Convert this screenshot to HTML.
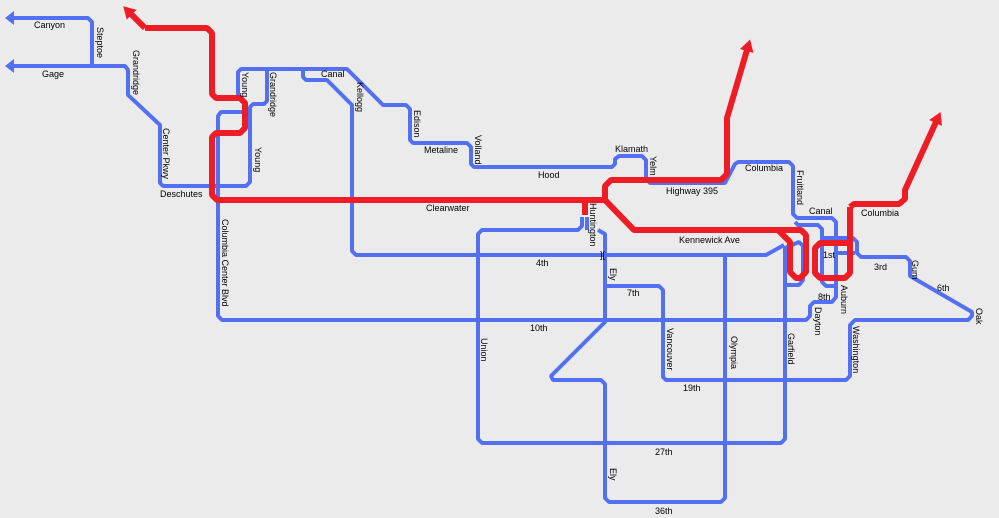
<!DOCTYPE html>
<html><head><meta charset="utf-8"><style>
html,body{margin:0;padding:0;background:#ebebeb;}
#c{position:relative;width:999px;height:518px;overflow:hidden;background:#ebebeb;font-family:"Liberation Sans",sans-serif;font-size:9px;color:#000;}
svg{position:absolute;left:0;top:0;}
.t{position:absolute;white-space:nowrap;line-height:10px;}
.v{position:absolute;white-space:nowrap;writing-mode:vertical-rl;line-height:10px;}
</style></head><body><div id="c">
<svg width="999" height="518" viewBox="0 0 999 518">
<defs>
<marker id="ar" markerUnits="userSpaceOnUse" markerWidth="16" markerHeight="16" viewBox="-2 -8 16 16" refX="0" refY="0" orient="auto">
<path d="M-1,-7 L11,0 L-1,7 z" fill="#ee1c25"/>
</marker>
</defs>
<g fill="none" stroke="#5470f2" stroke-width="4" stroke-linejoin="bevel">
<path d="M12,18 H88 L92,22 V66"/>
<path d="M12,66 H125 L128,70 V95 L160,125 V183 L163,186 H246 L250,182 V107 L253,104 H264 L267,101 V69"/>
<path d="M238,97 V72 L241,69 H347 L383,105 H406 L410,109 V140 L413,143 H467 L471,147 V164 L474,167 H612 L615,164 V159 L619,156 H642 L646,160 V179 L650,183 H725 L735,164 L738,162 H789 L793,166 V214 L797,218 H832 L836,222 V297 L832,302 H814 L810,306 V316 L806,320 H222 L218,316 V116 L221,112 H245"/>
<path d="M303,69 V77 L306,80 H327 L352,105 V251 L356,255 H766 L784,245"/>
<path d="M795,222 L798,225 H818 L822,229 V282 L826,286 H836"/>
<path d="M822,238 H853 L857,242 V253 L861,257 H906 L910,261 V276 L972,312 V316 L968,320 H855 L850,325 V376 L846,380 H666 L663,377 V290 L659,286 H605"/>
<path d="M836,253 H855"/>
<path d="M582,217 V226 L578,230 H482 L478,234 V439 L482,443 H781 L785,439 V248 L799,242 L803,246 V280 L799,285 H787"/>
<path d="M587,217 V230 M598,230 L605,234 V322 L551,376 L553,380 H601 L605,384 V498 L609,502 H721 L725,498 V255"/>
</g>
<polygon points="5,18 14,11 14,25" fill="#5470f2"/>
<polygon points="5,66 14,59 14,73" fill="#5470f2"/>
<g fill="none" stroke="#ee1c25" stroke-width="6" stroke-linejoin="bevel">
<path d="M145,28 L131,14" marker-end="url(#ar)"/>
<path d="M145,28 H207 L212,33 V94 L216,98 H240 L245,103 V128 L240,133 H216 L212,137 V195 L217,200 H605"/>
<path d="M585,200 V215"/>
<path d="M605,200 V186 L611,180 H721 L727,174 V118 L747,50" marker-end="url(#ar)"/>
<path d="M605,200 L634,230 H801 L806,235 V272 L800,278 H796 L790,272 V242 L778,230"/>
<path d="M850,207 V273 L845,278 H820 L815,273 V248 L820,243 H850"/>
<path d="M850,207 L854,204 H899 L905,199 V190 L936,122" marker-end="url(#ar)"/>
</g>
</svg>
<div class="t" style="left:34px;top:20px">Canyon</div>
<div class="v" style="left:95px;top:27px">Steptoe</div>
<div class="t" style="left:42px;top:69px">Gage</div>
<div class="v" style="left:131px;top:50px">Grandridge</div>
<div class="v" style="left:161px;top:128px">Center Pkwy</div>
<div class="t" style="left:160px;top:189px">Deschutes</div>
<div class="v" style="left:240px;top:72px">Young</div>
<div class="v" style="left:268px;top:72px">Grandridge</div>
<div class="v" style="left:253px;top:147px">Young</div>
<div class="t" style="left:321px;top:69px">Canal</div>
<div class="v" style="left:355px;top:82px">Kellogg</div>
<div class="v" style="left:412px;top:110px">Edison</div>
<div class="t" style="left:424px;top:145px">Metaline</div>
<div class="v" style="left:473px;top:135px">Volland</div>
<div class="t" style="left:538px;top:170px">Hood</div>
<div class="t" style="left:615px;top:144px">Klamath</div>
<div class="v" style="left:648px;top:156px">Yelm</div>
<div class="t" style="left:666px;top:186px">Highway 395</div>
<div class="t" style="left:745px;top:163px">Columbia</div>
<div class="v" style="left:795px;top:170px">Fruitland</div>
<div class="t" style="left:809px;top:206px">Canal</div>
<div class="t" style="left:861px;top:208px">Columbia</div>
<div class="t" style="left:426px;top:203px">Clearwater</div>
<div class="v" style="left:588px;top:203px">Huntington</div>
<div class="t" style="left:679px;top:235px">Kennewick Ave</div>
<div class="t" style="left:536px;top:258px">4th</div>
<div class="t" style="left:600px;top:250px">][</div>
<div class="v" style="left:608px;top:268px">Ely</div>
<div class="t" style="left:627px;top:288px">7th</div>
<div class="t" style="left:823px;top:250px">1st</div>
<div class="t" style="left:874px;top:262px">3rd</div>
<div class="v" style="left:910px;top:260px">Gum</div>
<div class="t" style="left:937px;top:283px">6th</div>
<div class="v" style="left:974px;top:308px">Oak</div>
<div class="t" style="left:818px;top:292px">8th</div>
<div class="v" style="left:839px;top:285px">Auburn</div>
<div class="v" style="left:813px;top:307px">Dayton</div>
<div class="t" style="left:530px;top:323px">10th</div>
<div class="v" style="left:220px;top:219px">Columbia Center Blvd</div>
<div class="v" style="left:479px;top:338px">Union</div>
<div class="v" style="left:665px;top:328px">Vancouver</div>
<div class="v" style="left:729px;top:336px">Olympia</div>
<div class="v" style="left:786px;top:333px">Garfield</div>
<div class="v" style="left:851px;top:326px">Washington</div>
<div class="t" style="left:683px;top:383px">19th</div>
<div class="t" style="left:655px;top:447px">27th</div>
<div class="v" style="left:608px;top:468px">Ely</div>
<div class="t" style="left:655px;top:506px">36th</div>
</div></body></html>
